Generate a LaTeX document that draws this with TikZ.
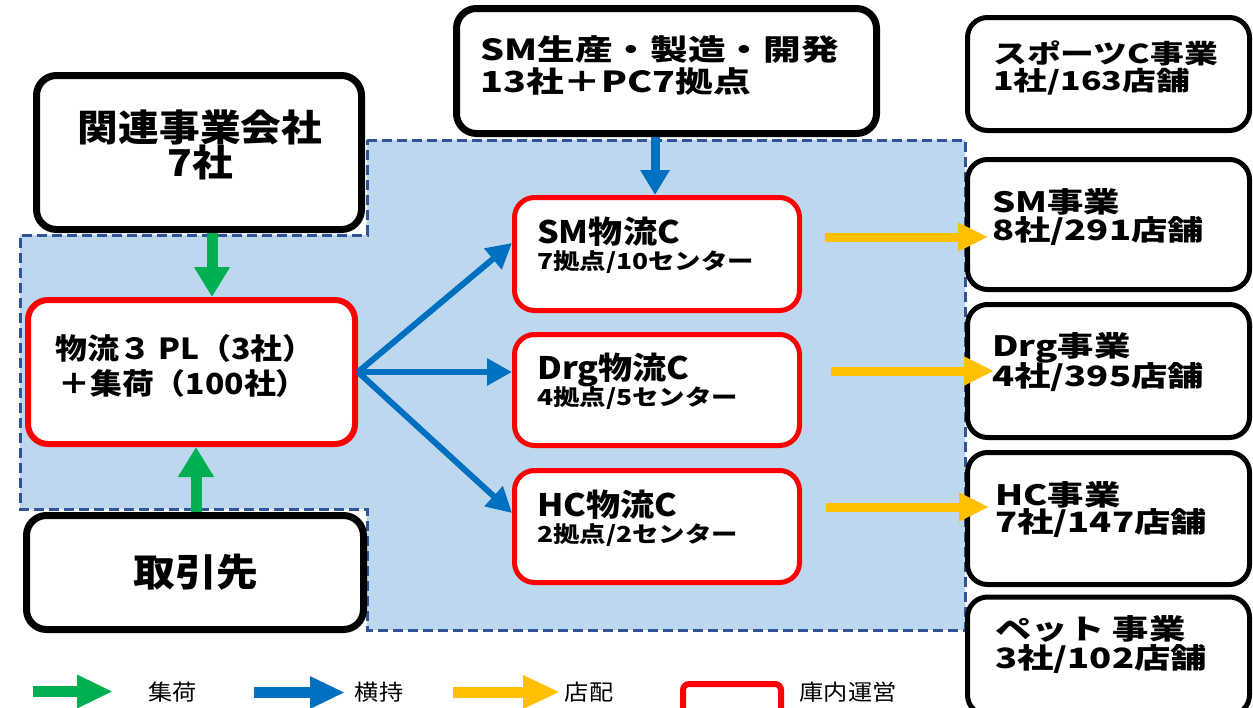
\documentclass[tikz,border=0pt]{standalone}
\usepackage{fontspec}
\newfontfamily\jpR[FakeStretch=1.1]{Noto Sans CJK JP}
\newfontfamily\jpA[FakeStretch=1.1]{Noto Sans CJK JP}
\newfontfamily\jpB[FakeStretch=1.2]{Noto Sans CJK JP}
\newfontfamily\jpC[FakeStretch=1.3]{Noto Sans CJK JP}
\usetikzlibrary{arrows.meta}
\definecolor{bgblue}{HTML}{BDD7EE}
\definecolor{dashblue}{HTML}{2F5597}
\definecolor{gr}{HTML}{00B050}
\definecolor{bl}{HTML}{0070C0}
\definecolor{yl}{HTML}{FFC000}
\definecolor{rd}{HTML}{FF0000}
\tikzset{
  bbox/.style={draw=black,fill=white,rounded corners=20pt,inner sep=0pt},
  rbox/.style={draw=rd,fill=white,rounded corners=20pt,inner sep=0pt},
  txt/.style={anchor=west,inner sep=0pt},
  ctxt/.style={anchor=center,inner sep=0pt},
  garrow/.style={draw=gr,line width=11pt,-{Triangle[length=30pt,width=34pt]}},
  barrow/.style={draw=bl,line width=6pt,-{Triangle[length=25pt,width=26pt]}},
  bvarrow/.style={draw=bl,line width=9pt,-{Triangle[length=25pt,width=28pt]}},
  yarrow/.style={draw=yl,line width=9pt,-{Triangle[length=30pt,width=27pt]}},
  regionline/.style={draw=dashblue,line width=3pt,dash pattern=on 10pt off 5pt},
}
\begin{document}
\begin{tikzpicture}[x=1pt,y=-1pt]
\clip (0,0) rectangle (1253,707);
\fill[white] (0,0) rectangle (1253,707);
% background region
\fill[bgblue] (367,140) -- (965,140) -- (965,630) -- (367,630) -- (367,509) -- (20,509) -- (20,235) -- (367,235) -- cycle;
\draw[regionline] (367,140) -- (965,140) -- (965,630) -- (367,630) -- (367,509) -- (20,509) -- (20,235) -- (367,235) -- cycle;

% boxes
\node[bbox,line width=7pt,minimum width=325pt,minimum height=154pt] (rel) at (199,152.5) {};
\node[rbox,line width=6pt,minimum width=327pt,minimum height=144pt] (pl) at (191.5,372) {};
\node[bbox,line width=7pt,minimum width=337pt,minimum height=114pt] (tor) at (195,572.5) {};
\node[bbox,line width=7pt,minimum width=420pt,minimum height=125pt] (smp) at (666.5,71) {};
\node[rbox,line width=5pt,minimum width=285pt,minimum height=113pt] (smc) at (657,254) {};
\node[rbox,line width=5pt,minimum width=285pt,minimum height=111pt] (drg) at (657,390) {};
\node[rbox,line width=5pt,minimum width=285pt,minimum height=112pt] (hc) at (657,526.5) {};
\node[bbox,line width=5pt,minimum width=282pt,minimum height=113pt] (sp) at (1108.5,74) {};
\node[bbox,line width=5pt,minimum width=282pt,minimum height=130pt] (smj) at (1108.5,224.5) {};
\node[bbox,line width=5pt,minimum width=282pt,minimum height=133pt] (drj) at (1108.5,371) {};
\node[bbox,line width=5pt,minimum width=282pt,minimum height=132pt] (hcj) at (1108.5,518.5) {};
\node[bbox,line width=5pt,minimum width=282pt,minimum height=118pt] (pet) at (1108.5,656) {};

% texts
\node[ctxt,font=\jpR\bfseries\fontsize{37}{40}\selectfont] (t1a) at (200,127) {関連事業会社};
\node[ctxt,font=\jpR\bfseries\fontsize{37}{40}\selectfont] (t1b) at (200,162) {7社};
\node[ctxt,font=\jpR\bfseries\fontsize{38}{40}\selectfont] (t3) at (196,572) {取引先};
\node[txt,font=\jpA\bfseries\fontsize{29}{32}\selectfont] (t2a) at (55,348) {物流３ PL（3社）};
\node[txt,font=\jpA\bfseries\fontsize{29}{32}\selectfont] (t2b) at (58,383) {＋集荷（100社）};
\node[txt,font=\jpC\bfseries\fontsize{29}{32}\selectfont] (t4a) at (480,50) {SM生産・製造・開発};
\node[txt,font=\jpC\bfseries\fontsize{29}{32}\selectfont] (t4b) at (480,82) {13社＋PC7拠点};
\node[txt,font=\jpA\bfseries\fontsize{31}{34}\selectfont] (t5a) at (537,232) {SM物流C};
\node[txt,font=\jpB\bfseries\fontsize{22}{25}\selectfont] (t5b) at (537,262) {7拠点/10センター};
\node[txt,font=\jpA\bfseries\fontsize{31}{34}\selectfont] (t6a) at (537,370) {Drg物流C};
\node[txt,font=\jpB\bfseries\fontsize{22}{25}\selectfont] (t6b) at (537,398) {4拠点/5センター};
\node[txt,font=\jpA\bfseries\fontsize{31}{34}\selectfont] (t7a) at (537,505) {HC物流C};
\node[txt,font=\jpB\bfseries\fontsize{22}{25}\selectfont] (t7b) at (537,535) {2拠点/2センター};
\node[txt,font=\jpC\bfseries\fontsize{26}{29}\selectfont] (t8a) at (993,53) {スポーツC事業};
\node[txt,font=\jpC\bfseries\fontsize{26}{29}\selectfont] (t8b) at (993,82) {1社/163店舗};
\node[txt,font=\jpC\bfseries\fontsize{28}{30}\selectfont] (t9a) at (992,202) {SM事業};
\node[txt,font=\jpC\bfseries\fontsize{28}{30}\selectfont] (t9b) at (992,231) {8社/291店舗};
\node[txt,font=\jpC\bfseries\fontsize{28}{30}\selectfont] (t10a) at (992,348) {Drg事業};
\node[txt,font=\jpC\bfseries\fontsize{28}{30}\selectfont] (t10b) at (992,377) {4社/395店舗};
\node[txt,font=\jpC\bfseries\fontsize{28}{30}\selectfont] (t11a) at (995,495) {HC事業};
\node[txt,font=\jpC\bfseries\fontsize{28}{30}\selectfont] (t11b) at (995,523) {7社/147店舗};
\node[txt,font=\jpC\bfseries\fontsize{28}{30}\selectfont] (t12a) at (995,629) {ペット 事業};
\node[txt,font=\jpC\bfseries\fontsize{28}{30}\selectfont] (t12b) at (995,659) {3社/102店舗};

% arrows
\draw[garrow] ([xshift=13pt]rel.south) -- ([xshift=13pt]rel.south |- pl.north);
\draw[garrow] ([xshift=1pt]tor.north) -- ([xshift=1pt]tor.north |- pl.south);
\draw[bvarrow] ([xshift=-11.5pt]smp.south) -- ([xshift=-11.5pt]smp.south |- smc.north);
\draw[barrow] (pl.east) -- ([yshift=11pt]smc.west);
\draw[barrow] (pl.east) -- (pl.east -| drg.west);
\draw[barrow] (pl.east) -- ([yshift=13.5pt]hc.west);
\draw[yarrow] ([shift={(23,-17)}]smc.east) -- ([shift={(23,-17)}]smc.east -| smj.west);
\draw[yarrow] ([shift={(29,-19)}]drg.east) -- ([shift={(29,-19)}]drg.east -| drj.west);
\draw[yarrow] ([shift={(24,-19.5)}]hc.east) -- ([shift={(24,-19.5)}]hc.east -| hcj.west);

% legend
\coordinate (lg1s) at (33,691.5);
\coordinate (lg1e) at (113,691.5);
\coordinate (lg2s) at (254,692.5);
\coordinate (lg2e) at (345,692.5);
\coordinate (lg3s) at (453,692);
\coordinate (lg3e) at (560,692);
\draw[draw=gr,line width=11pt,-{Triangle[length=36pt,width=31pt]}] (lg1s) -- (lg1e);
\draw[draw=bl,line width=11pt,-{Triangle[length=35pt,width=30pt]}] (lg2s) -- (lg2e);
\draw[draw=yl,line width=11pt,-{Triangle[length=37pt,width=31pt]}] (lg3s) -- (lg3e);
\node[ctxt,font=\jpA\fontsize{22}{24}\selectfont] (l1) at (172.5,692) {集荷};
\node[ctxt,font=\jpA\fontsize{22}{24}\selectfont] (l2) at (379,692) {横持};
\node[ctxt,font=\jpA\fontsize{22}{24}\selectfont] (l3) at (589,692) {店配};
\node[draw=rd,line width=6pt,rounded corners=6pt,fill=white,inner sep=0pt,minimum width=98pt,minimum height=40pt] (l4box) at (732,704) {};
\node[ctxt,font=\jpA\fontsize{22}{24}\selectfont] (l4) at (848,692) {庫内運営};
\end{tikzpicture}
\end{document}
